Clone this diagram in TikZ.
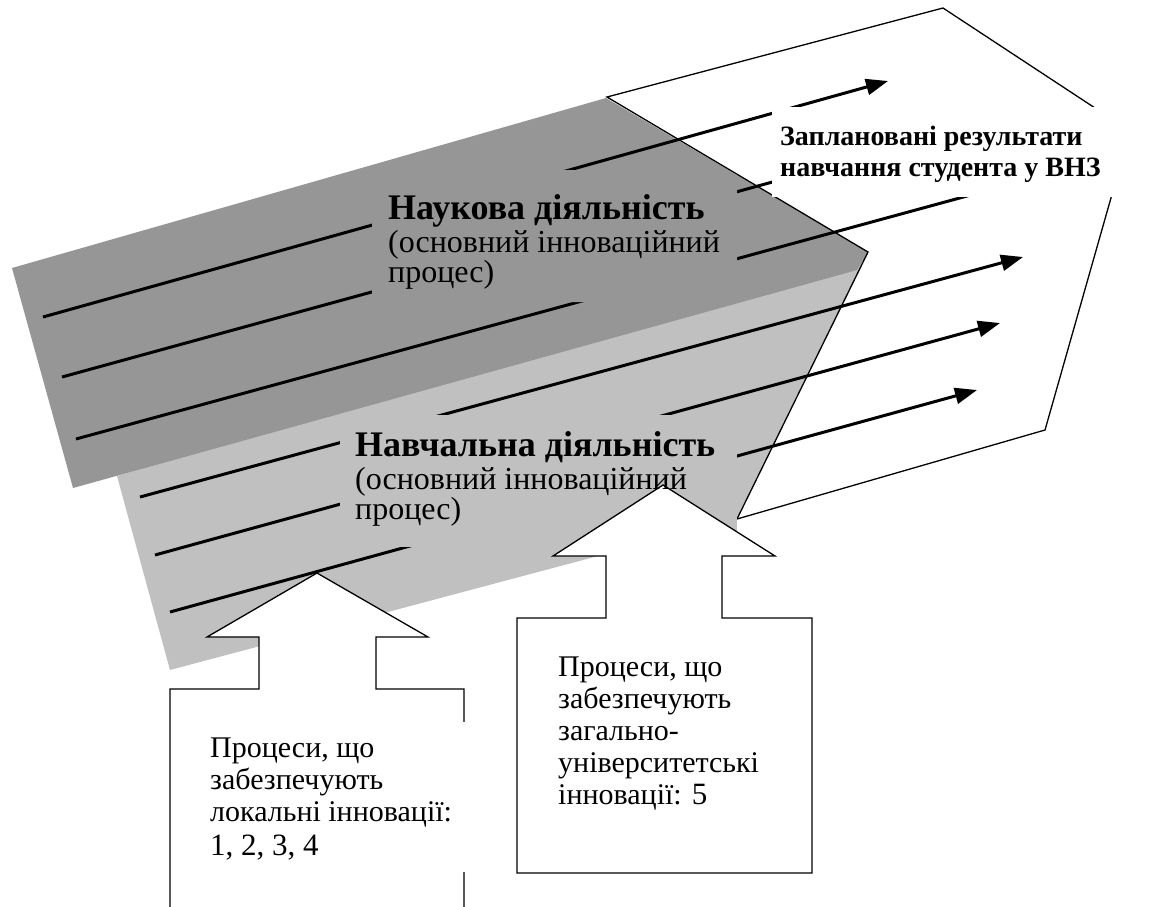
\documentclass[tikz,border=0pt]{standalone}
\usepackage{fontspec}
\setmainfont{Liberation Serif}
\usetikzlibrary{arrows.meta}
\definecolor{darkg}{RGB}{150,150,150}
\definecolor{lightg}{RGB}{192,192,192}
\begin{document}
\begin{tikzpicture}[x=1pt,y=-1pt,
  flow/.style={line width=3pt},
  flowarrow/.style={flow,-{Triangle[length=22pt,width=16pt]}},
  outline/.style={line width=1.3pt, line join=miter},
  blockarrow/.style={outline, fill=white},
  txt/.style={anchor=base west,inner sep=0pt,font=\fontsize{30}{34}\selectfont},
  midtxt/.style={anchor=base west,inner sep=0pt,font=\fontsize{32}{36}\selectfont},
  bigtxt/.style={anchor=base west,inner sep=0pt,font=\fontsize{36}{42}\selectfont\bfseries},
  restxt/.style={anchor=base west,inner sep=0pt,font=\fontsize{28}{32}\selectfont\bfseries}
]
\useasboundingbox (0,0) rectangle (1162,906);

% gray layers
\fill[lightg] (117,476) -- (170,670) -- (737,519) -- (868,252) -- cycle;
\fill[darkg] (12,268) -- (606,98) -- (868,252) -- (857,270) -- (73,488) -- cycle;

% results hexagon
\draw[outline] (607,97) -- (943,8) -- (1130,131) -- (1045,430) -- (737,519) -- (868,252) -- cycle;

% flow lines
\coordinate (a1s) at (43,317);   \coordinate (a1e) at (888,81);
\coordinate (a2s) at (62,377);   \coordinate (a2e) at (900,147);
\coordinate (a3s) at (76,439);   \coordinate (a3e) at (1000,187);
\coordinate (b1s) at (140,497);  \coordinate (b1e) at (1023,257);
\coordinate (b2s) at (155,555);  \coordinate (b2e) at (1000,323);
\coordinate (b3s) at (170,612);  \coordinate (b3e) at (977,390);
\draw[flowarrow] (a1s) -- (a1e);
\draw[flow] (a2s) -- (a2e);
\draw[flow] (a3s) -- (a3e);
\draw[flowarrow] (b1s) -- (b1e);
\draw[flowarrow] (b2s) -- (b2e);
\draw[flowarrow] (b3s) -- (b3e);

% text box backgrounds
\fill[darkg] (372,170) -- (728,170) -- (737,175) -- (737,302) -- (372,302) -- cycle;
\fill[lightg] (340,415) rectangle (737,547);
\fill[white] (772,107) rectangle (1150,197);

% block arrows
\draw[blockarrow] (317,573) -- (428,637) -- (376,637) -- (376,689) -- (464,689) -- (464,930)
  -- (170,930) -- (170,689) -- (259,689) -- (259,637) -- (207,637) -- cycle;
\fill[white] (200,722) rectangle (466,872);
\draw[blockarrow] (663,485) -- (775,556) -- (722,556) -- (722,618) -- (812,618) -- (812,873)
  -- (517,873) -- (517,618) -- (606,618) -- (606,556) -- (553,556) -- cycle;

% texts
\node[bigtxt] (nh) at (388,219) {Наукова діяльність};
\node[midtxt] (nh2) at (388,252) {(основний інноваційний};
\node[midtxt] (nh3) at (388,282) {процес)};
\node[bigtxt] (nv) at (355,456) {Навчальна діяльність};
\node[midtxt] (nv2) at (355,489) {(основний інноваційний};
\node[midtxt] (nv3) at (355,519) {процес)};
\node[restxt] (r1) at (780,145) {Заплановані результати};
\node[restxt] (r2) at (780,176) {навчання студента у ВНЗ};
\node[txt] (l1) at (210,757) {Процеси, що};
\node[txt] (l2) at (210,789) {забезпечують};
\node[txt] (l3) at (210,821) {локальні інновації:};
\node[txt,font=\fontsize{31}{36}\selectfont] (l4) at (210,855) {1, 2, 3, 4};
\node[txt] (g1) at (558,676) {Процеси, що};
\node[txt] (g2) at (558,708) {забезпечують};
\node[txt] (g3) at (558,740) {загально-};
\node[txt] (g4) at (558,772) {університетські};
\node[txt] (g5) at (558,804) {інновації: {\fontsize{31}{36}\selectfont 5}};
\end{tikzpicture}
\end{document}
